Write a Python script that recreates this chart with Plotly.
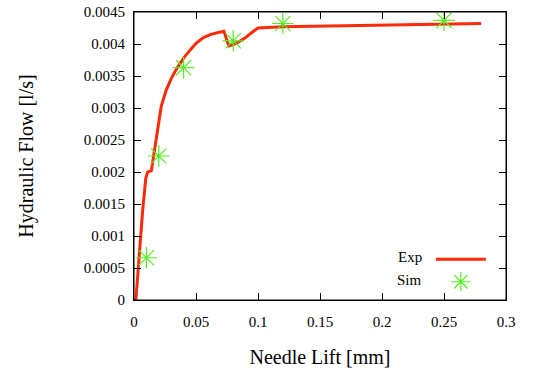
import plotly.graph_objects as go

# Experimental curve (Exp)
exp_lift = [0.0015, 0.004, 0.007, 0.0095, 0.011, 0.014, 0.018, 0.022, 0.026, 0.030, 0.034, 0.040, 0.045, 0.050, 0.056, 0.062, 0.068, 0.0725, 0.0765, 0.080, 0.085, 0.090, 0.095, 0.100, 0.120, 0.150, 0.200, 0.250, 0.280]
exp_flow = [0.0, 0.0007, 0.0014, 0.0019, 0.0020, 0.00202, 0.00255, 0.00303, 0.00328, 0.00346, 0.0036, 0.00378, 0.0039, 0.00401, 0.0041, 0.00415, 0.00418, 0.0042, 0.00397, 0.00399, 0.00404, 0.0041, 0.00418, 0.00425, 0.00427, 0.00428, 0.00429, 0.00431, 0.00432]

# Simulation points (Sim)
sim_lift = [0.01, 0.02, 0.04, 0.08, 0.12, 0.25]
sim_flow = [0.00066, 0.00225, 0.00363, 0.00405, 0.00432, 0.00437]

x_ticks = [0, 0.05, 0.1, 0.15, 0.2, 0.25, 0.3]
x_ticktext = ["0", "0.05", "0.1", "0.15", "0.2", "0.25", "0.3"]
y_ticks = [0, 0.0005, 0.001, 0.0015, 0.002, 0.0025, 0.003, 0.0035, 0.004, 0.0045]
y_ticktext = ["0", "0.0005", "0.001", "0.0015", "0.002", "0.0025", "0.003", "0.0035", "0.004", "0.0045"]

FONT = "Liberation Serif, Times New Roman, serif"
RED = "#ff2a0a"
GREEN = "#55ee22"

fig = go.Figure()
fig.add_trace(go.Scatter(x=exp_lift, y=exp_flow, mode="lines", name="Exp",
                         line=dict(color=RED, width=3)))
fig.add_trace(go.Scatter(x=sim_lift, y=sim_flow, mode="markers", name="Sim",
                         marker=dict(symbol="asterisk-open", size=18, color=GREEN,
                                     line=dict(color=GREEN, width=1.2))))

axis_common = dict(showline=True, linecolor="black", linewidth=1, mirror="allticks",
                   ticks="inside", ticklen=7, tickcolor="black", tickwidth=1,
                   showgrid=False, zeroline=False, automargin=False,
                   tickfont=dict(family=FONT, size=15, color="black"))

fig.update_xaxes(range=[0, 0.3], tickvals=x_ticks, ticktext=x_ticktext, ticklabelstandoff=8,
                 title=dict(text="Needle Lift [mm]", font=dict(family=FONT, size=20, color="black"), standoff=20),
                 **axis_common)
fig.update_yaxes(range=[0, 0.0045], tickvals=y_ticks, ticktext=y_ticktext, ticklabelstandoff=5,
                 title=dict(text="Hydraulic Flow [l/s]", font=dict(family=FONT, size=20, color="black"), standoff=44),
                 **axis_common)

fig.update_layout(
    width=533, height=376,
    font=dict(family=FONT, color="black"),
    margin=dict(l=134, r=23, t=12, b=76),
    paper_bgcolor="white", plot_bgcolor="white",
    showlegend=True,
    legend=dict(x=0.798, y=0.198, xanchor="left", yanchor="top",
                bgcolor="rgba(0,0,0,0)", itemwidth=50, tracegroupgap=0,
                font=dict(family=FONT, size=15, color="rgba(0,0,0,0)")),
    shapes=[dict(type="rect", xref="paper", yref="paper", x0=0, x1=1, y0=0, y1=1,
                 line=dict(color="black", width=1), layer="above")],
    annotations=[
        dict(text="Exp", xref="paper", yref="paper", x=0.779, y=0.149, xanchor="right", yanchor="middle",
             showarrow=False, font=dict(family=FONT, size=15, color="black")),
        dict(text="Sim", xref="paper", yref="paper", x=0.779, y=0.069, xanchor="right", yanchor="middle",
             showarrow=False, font=dict(family=FONT, size=15, color="black")),
    ],
)

fig.write_html("out.html", config={"displayModeBar": False},
               post_script="document.body.style.margin='0';")
